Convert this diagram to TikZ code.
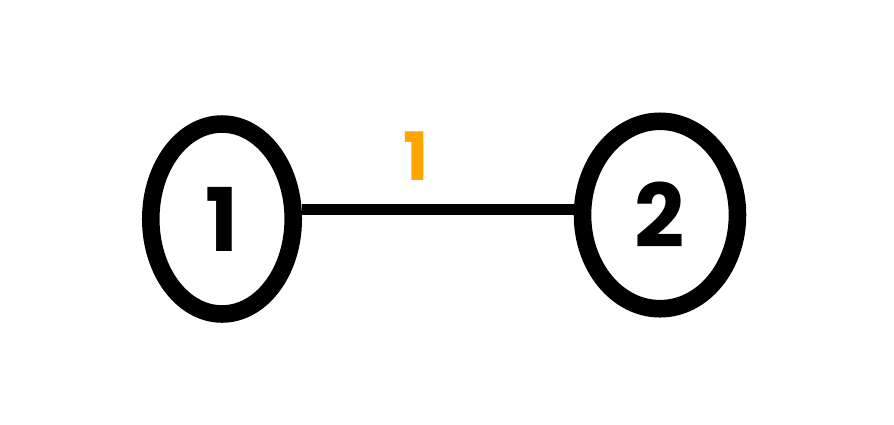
\documentclass[tikz,border=0pt]{standalone}
\usepackage{fontspec}
\setsansfont{Poppins}
\usepackage{xcolor}
\usepackage{tikz}
\usetikzlibrary{shapes.geometric}
\definecolor{labelorange}{HTML}{FFA500}

\begin{document}
\begin{tikzpicture}[
  x=0.02cm,y=-0.02cm,
  vertex/.style={draw,ellipse,line width=10pt,minimum width=2.85cm,minimum height=3.8cm,inner sep=0pt,
    font=\sffamily\bfseries\fontsize{50}{50}\selectfont},
  link/.style={line width=6.5pt},
  weight/.style={text=labelorange,font=\sffamily\bfseries\fontsize{38}{38}\selectfont}
]
\useasboundingbox (0,0) rectangle (894,424);
\node[vertex] (n1) at (222,219) {1};
\node[vertex,minimum width=3.1cm,minimum height=3.75cm] (n2) at (660,215) {2};
\coordinate (e1) at (n1.7);
\draw[link] (e1) -- (e1 -| n2.west) node[weight,pos=0.42,above=0.35cm] (w12) {1};
\end{tikzpicture}
\end{document}
